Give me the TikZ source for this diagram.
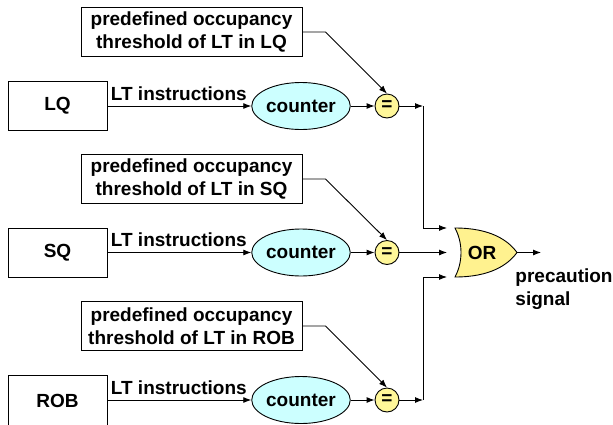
\documentclass[tikz,border=0pt]{standalone}
\usepackage{fontspec}
\setmainfont{Liberation Sans}
\usetikzlibrary{arrows.meta,shapes.geometric}
\definecolor{cntfill}{HTML}{CCFFFF}
\definecolor{eqfill}{HTML}{FFF799}
\definecolor{orfill}{HTML}{FFF28F}
\begin{document}
\begin{tikzpicture}[x=1pt,y=-1pt,
  font=\fontsize{19}{23}\selectfont\bfseries,
  every path/.style={line width=0.9pt},
  arr/.style={-{Latex[length=8pt,width=6pt]}},
  srcbox/.style={draw,minimum width=99pt,minimum height=49pt,inner sep=0pt},
  thrbox/.style={draw,minimum width=221pt,minimum height=49pt,inner sep=0pt,align=center},
  cnt/.style={draw,ellipse,fill=cntfill,minimum width=98pt,minimum height=47pt,inner sep=0pt},
  eqc/.style={draw,circle,fill=eqfill,minimum size=24pt,inner sep=0pt},
  lbl/.style={anchor=south west,inner sep=0pt}
]
\useasboundingbox (0,0) rectangle (613,424);

% rows
\foreach \r/\yc/\yt/\name/\sh/\sy in {1/106/32/LQ/49/106,2/252.5/179/SQ/49/252.5,3/400/326/ROB/52/401.5}{
  \node[thrbox] (thr\r) at (191.5,\yt) {predefined occupancy\\threshold of LT in \name};
  \node[srcbox,minimum height=\sh pt] (src\r) at (57.5,\sy) {\raisebox{\dimexpr(\sy pt-\yc pt)}{\name}};
  \node[cnt] (cnt\r) at (301,\yc) {counter};
  \node[eqc] (eq\r) at (387,\yc) {=};
  \draw[arr] (src\r.east |- cnt\r) -- (cnt\r);
  \node[lbl] at ([xshift=3pt,yshift=5pt]src\r.east |- cnt\r) {LT instructions};
  \draw[arr] (cnt\r) -- (eq\r);
  \draw[arr] (thr\r.east) -- ++(23,0) -- (eq\r.north);
}

% OR gate
\coordinate (gt) at (455,228);
\coordinate (gb) at (455,277);
\coordinate (gtip) at (517,252.5);
\draw[fill=orfill] (gt) .. controls (490,228) and (508,240) .. (gtip)
  .. controls (508,265) and (490,277) .. (gb)
  .. controls (463,262) and (463,243) .. (gt) -- cycle;
\node (or) at (482,252.5) {OR};

\coordinate (j1) at (423,106);
\coordinate (j3) at (423,400);
\coordinate (in1) at (447,228);
\coordinate (in2) at (447,252.5);
\coordinate (in3) at (447,277);
\coordinate (out) at (541,252.5);

\draw[arr] (eq1) -- (j1);
\draw[arr] (j1) |- (in1);
\draw[arr] (eq2) -- (in2);
\draw[arr] (eq3) -- (j3);
\draw[arr] (j3) |- (in3);
\draw[arr] (gtip) -- (out);

\node[anchor=north west,align=left,inner sep=0pt] (sig) at (515,268) {precaution\\signal};
\end{tikzpicture}
\end{document}
